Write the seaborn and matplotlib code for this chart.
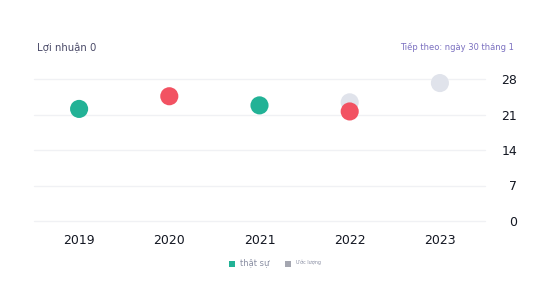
import matplotlib
matplotlib.use("Agg")
import matplotlib.pyplot as plt
import seaborn as sns
import pandas as pd
import numpy as np
from matplotlib.patches import Rectangle

years = ["2019", "2020", "2021", "2022", "2023"]
estimate = [None, None, None, 23.4, 27.2]
actual = [22.1, 24.6, 22.8, 21.6, None]
outcome = ["beat", "miss", "beat", "miss", None]
yticks = [0, 7, 14, 21, 28]

GREEN = "#22b296"
RED = "#f25262"
GRAY = "#e0e3eb"

sns.set_theme(style="white")
plt.rcParams['font.family'] = ['DejaVu Sans']

fig = plt.figure(figsize=(5.47, 3.02), dpi=100)
ax = fig.add_axes([34/547, 81/302, (485-34)/547, (221-79)/302])

pos = list(range(len(years)))
df_est = pd.DataFrame({"pos": pos, "value": estimate}).dropna()
df_act = pd.DataFrame({"pos": pos, "value": actual, "outcome": outcome}).dropna()

sns.scatterplot(data=df_est, x="pos", y="value", color=GRAY, s=170,
                edgecolor="none", ax=ax, clip_on=False, zorder=3)
sns.scatterplot(data=df_act, x="pos", y="value", hue="outcome",
                palette={"beat": GREEN, "miss": RED}, s=170,
                edgecolor="none", ax=ax, clip_on=False, zorder=4, legend=False)
ax.set_xlim(-0.5, 4.5)
ax.set_ylim(0, 28)
ax.set_xticks(pos)
ax.set_xticklabels(years)
ax.set_yticks(yticks)
ax.yaxis.tick_right()
ax.tick_params(axis="x", length=0, pad=9, labelsize=9, labelcolor="#131722")
ax.tick_params(axis="y", length=0, pad=23, labelsize=9, labelcolor="#131722")
for t in ax.get_yticklabels():
    t.set_horizontalalignment("right")
ax.grid(axis="y", color="#f0f1f4", linewidth=1)
ax.grid(axis="x", visible=False)
for gl in ax.get_ygridlines():
    gl.set_clip_on(False)
for sp in ax.spines.values():
    sp.set_visible(False)
ax.set_xlabel("")
ax.set_ylabel("")
if ax.get_legend():
    ax.get_legend().remove()

fig.text(37/547, 1 - 48/302, "Lợi nhuận 0", fontsize=7.3, color="#4a4a68", va="center")
fig.text(514/547, 1 - 47/302, "Tiếp theo: ngày 30 tháng 1", fontsize=6, color="#7b70c0",
         va="center", ha="right")

fig.patches.append(Rectangle((229/547, 1 - 267/302), 6/547, 6/302, transform=fig.transFigure,
                             facecolor=GREEN, edgecolor="none"))
fig.text(240/547, 1 - 263/302, "thật sự", fontsize=6, color="#8a8fa3", va="center")
fig.patches.append(Rectangle((285/547, 1 - 267/302), 6/547, 6/302, transform=fig.transFigure,
                             facecolor="#a4a6b0", edgecolor="none"))
fig.text(296/547, 1 - 262/302, "Ước lượng", fontsize=3.5, color="#8a8fa3", va="center")

fig.savefig("out.png", dpi=100, facecolor="white")
